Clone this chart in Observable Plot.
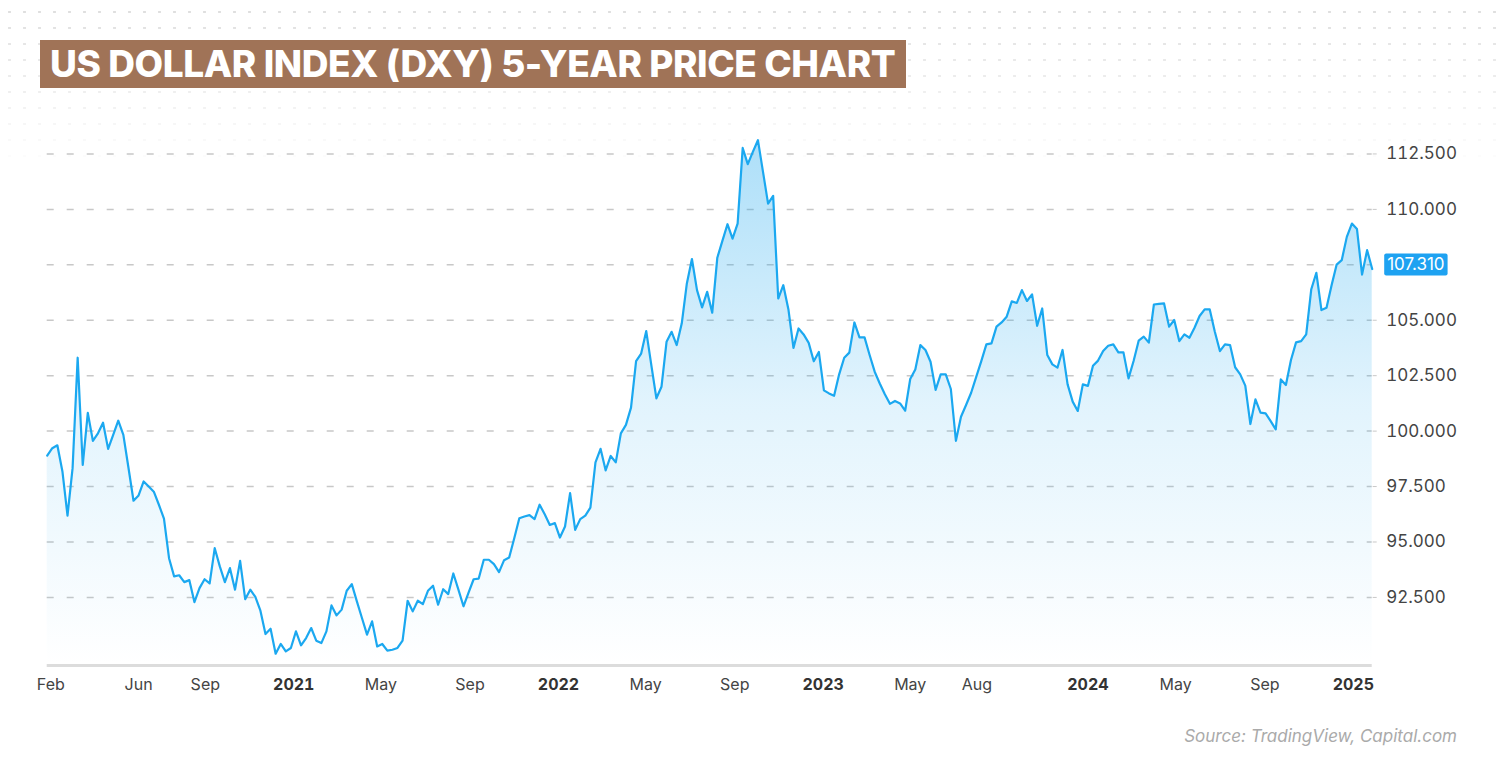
<!DOCTYPE html>
<html>
<head>
<meta charset="utf-8">
<script src="https://cdn.jsdelivr.net/npm/d3@7"></script>
<script src="https://cdn.jsdelivr.net/npm/@observablehq/plot@0.6"></script>
<style>
  html, body { margin: 0; padding: 0; background: #fff; }
  #wrap { position: relative; width: 1500px; height: 780px; overflow: hidden; font-family: Inter, "Noto Sans", sans-serif; }
  #dots { position: absolute; left: 0; top: 0; width: 1500px; height: 170px;
    background-image: radial-gradient(circle, #d9d9d9 1.1px, transparent 1.4px);
    background-size: 15px 16px; background-position: 2px 4px;
    -webkit-mask-image: linear-gradient(to bottom, rgba(0,0,0,0.9), rgba(0,0,0,0));
    mask-image: linear-gradient(to bottom, rgba(0,0,0,0.9), rgba(0,0,0,0)); }
  #chart { position: absolute; left: 0; top: 0; }
  #title { position: absolute; left: 40px; top: 40px; height: 48px; line-height: 48px; padding: 0 11px 0 10px;
    background: #a07357; color: #fff; font-family: Inter, sans-serif; font-weight: 800; font-size: 37px; letter-spacing: -0.4px; white-space: nowrap; }
  #source { position: absolute; right: 43px; top: 726px; color: #aaa; font-style: italic; font-size: 17px; font-family: Inter, sans-serif; }
</style>
</head>
<body>
<div id="wrap">
  <div id="dots"></div>
  <div id="chart"></div>
  <div id="title">US DOLLAR INDEX (DXY) 5-YEAR PRICE CHART</div>
  <div id="source">Source: TradingView, Capital.com</div>
</div>
<script>
// Weekly closes, starting the week of 2020-01-27
const startDate = "2020-01-27";
const values = [
  98.9, 99.23, 99.36, 98.18, 96.19, 98.33, 103.31, 98.48, 100.82, 99.56,
  99.9, 100.38, 99.2, 99.83, 100.47, 99.83, 98.36, 96.86, 97.1, 97.73,
  97.5, 97.27, 96.68, 96.05, 94.27, 93.45, 93.5, 93.19, 93.28, 92.29,
  92.92, 93.32, 93.13, 94.72, 93.9, 93.19, 93.82, 92.85, 94.15, 92.42,
  92.85, 92.52, 91.9, 90.85, 91.09, 89.96, 90.4, 90.07, 90.22, 90.97,
  90.34, 90.67, 91.12, 90.55, 90.44, 90.97, 92.14, 91.69, 91.95, 92.8,
  93.1, 92.32, 91.57, 90.82, 91.42, 90.29, 90.4, 90.1, 90.14, 90.22,
  90.55, 92.35, 91.87, 92.35, 92.2, 92.8, 93.03, 92.17, 92.87, 92.65,
  93.58, 92.85, 92.1, 92.72, 93.32, 93.35, 94.2, 94.2, 94.0, 93.64,
  94.18, 94.3, 95.17, 96.07, 96.15, 96.21, 96.03, 96.68, 96.25, 95.77,
  95.85, 95.2, 95.7, 97.2, 95.55, 96.03, 96.19, 96.55, 98.59, 99.2,
  98.23, 98.88, 98.59, 99.9, 100.28, 101.06, 103.16, 103.5, 104.51, 102.98,
  101.48, 102.0, 104.03, 104.48, 103.88, 104.86, 106.66, 107.76, 106.36, 105.58,
  106.28, 105.34, 107.82, 108.58, 109.33, 108.68, 109.36, 112.77, 112.04, 112.59,
  113.12, 111.69, 110.26, 110.61, 105.98, 106.58, 105.5, 103.75, 104.63, 104.36,
  103.98, 103.15, 103.57, 101.84, 101.7, 101.59, 102.56, 103.31, 103.54, 104.9,
  104.23, 104.23, 103.43, 102.68, 102.15, 101.66, 101.23, 101.36, 101.25, 100.92,
  102.35, 102.78, 103.88, 103.66, 103.13, 101.86, 102.56, 102.56, 101.9, 99.56,
  100.65, 101.18, 101.73, 102.45, 103.16, 103.91, 103.96, 104.71, 104.9, 105.16,
  105.85, 105.78, 106.36, 105.87, 106.17, 104.75, 105.53, 103.43, 103.01, 102.86,
  103.66, 102.11, 101.33, 100.91, 102.11, 102.04, 102.95, 103.18, 103.61, 103.85,
  103.91, 103.55, 103.55, 102.38, 103.16, 104.08, 104.26, 103.99, 105.71, 105.74,
  105.76, 104.71, 105.01, 104.06, 104.36, 104.21, 104.66, 105.19, 105.49, 105.49,
  104.48, 103.61, 103.91, 103.88, 102.88, 102.56, 102.05, 100.32, 101.43, 100.83,
  100.8, 100.45, 100.08, 102.33, 102.08, 103.21, 104.0, 104.06, 104.36, 106.4,
  107.14, 105.46, 105.56, 106.58, 107.51, 107.71, 108.76, 109.36, 109.11, 107.06,
  108.16, 107.31
];
const lastPrice = 107.31;
const yGridTicks = [92.5, 95, 97.5, 100, 102.5, 105, 107.5, 110, 112.5];
const yLabelTicks = [92.5, 95, 97.5, 100, 102.5, 105, 110, 112.5];
const monthTicks = ["2020-02-01","2020-06-01","2020-09-01","2021-05-01","2021-09-01","2022-05-01","2022-09-01","2023-05-01","2023-08-01","2024-05-01","2024-09-01"];
const yearTicks = ["2021-01-01","2022-01-01","2023-01-01","2024-01-01","2025-01-01"];
const yMin = 89.43, yMax = 113.9;

const start = new Date(startDate);
const data = values.map((v, i) => ({ date: d3.utcDay.offset(start, 7 * i), value: v }));
const lastDate = data[data.length - 1].date;

const chart = Plot.plot({
  width: 1500,
  height: 720,
  marginLeft: 46.7,
  marginRight: 128.3,
  marginTop: 122.4,
  marginBottom: 55,
  style: { fontFamily: "Inter, 'Noto Sans', sans-serif", background: "transparent", overflow: "visible" },
  x: { type: "utc", domain: [start, lastDate] },
  y: { domain: [yMin, yMax] },
  marks: [
    Plot.gridY(yGridTicks, { stroke: "#c8c8c8", strokeOpacity: 1, strokeWidth: 1.5, strokeDasharray: "7,13" }),
    Plot.areaY(data, { x: "date", y1: yMin, y2: "value", fill: "url(#dxyGrad)", curve: "linear" }),
    Plot.lineY(data, { x: "date", y: "value", stroke: "#1ba8f0", strokeWidth: 2.2, curve: "linear" }),
    Plot.ruleY([yMin], { stroke: "#dcdcdc", strokeWidth: 3 }),
    Plot.axisY(yLabelTicks, { anchor: "right", tickSize: 4, tickPadding: 10, stroke: "#c8c8c8", tickFormat: d3.format(".3f"), fontSize: 17, fill: "#444", label: null }),
    Plot.axisX(monthTicks.map(d => new Date(d)), { anchor: "bottom", tickSize: 0, tickPadding: 13, tickFormat: d3.utcFormat("%b"), fontSize: 16, fill: "#444", label: null }),
    Plot.axisX(yearTicks.map(d => new Date(d)), { anchor: "bottom", tickSize: 0, tickPadding: 13, tickFormat: d3.utcFormat("%Y"), fontSize: 16, fontWeight: "bold", fill: "#333", label: null }),
    Plot.text([{ date: lastDate, value: lastPrice }], { x: "date", y: "value", text: d => d.value.toFixed(3), dx: 15, dy: -4, textAnchor: "start", fill: "#fff", fontSize: 17, className: "price-label" })
  ]
});

// gradient for area
const ns = "http://www.w3.org/2000/svg";
const defs = document.createElementNS(ns, "defs");
defs.innerHTML = `<linearGradient id="dxyGrad" x1="0" y1="0" x2="0" y2="1">
  <stop offset="0" stop-color="#1ba6ee" stop-opacity="0.36"/>
  <stop offset="0.5" stop-color="#1ba6ee" stop-opacity="0.13"/>
  <stop offset="1" stop-color="#1ba6ee" stop-opacity="0.0"/>
</linearGradient>`;
chart.insertBefore(defs, chart.firstChild);
document.getElementById("chart").appendChild(chart);

// background box for the price label (same transform as the text)
const lbl = chart.querySelector(".price-label text") || chart.querySelector("text.price-label");
if (lbl) {
  const bb = lbl.getBBox();
  const rect = document.createElementNS(ns, "rect");
  rect.setAttribute("x", bb.x - 3);
  rect.setAttribute("y", bb.y - 1);
  rect.setAttribute("width", bb.width + 6);
  rect.setAttribute("height", bb.height + 2);
  rect.setAttribute("rx", 2);
  rect.setAttribute("fill", "#1ea2f1");
  const tr = lbl.getAttribute("transform");
  if (tr) rect.setAttribute("transform", tr);
  lbl.parentNode.insertBefore(rect, lbl);
}
</script>
</body>
</html>
